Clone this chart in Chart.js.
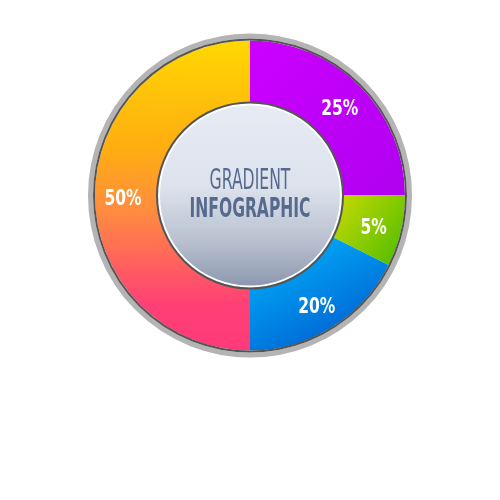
<!DOCTYPE html>
<html><head><meta charset="utf-8">
<script src="https://cdn.jsdelivr.net/npm/chart.js@4.4.1/dist/chart.umd.min.js"></script>
<style>html,body{margin:0;padding:0;background:#fff}#wrap{width:500px;height:500px}</style>
</head><body><div id="wrap"><canvas id="c" width="500" height="500"></canvas></div>
<script>
// Segments, clockwise from 12 o'clock
const categories = ['Purple', 'Green', 'Blue', 'Orange'];
const shares = [25, 7.4, 17.6, 50];          // arc sizes as drawn in the picture
const labelTexts = ['25%', '5%', '20%', '50%'];
const titleLines = ['GRADIENT', 'INFOGRAPHIC'];

function segmentFill(c) {
  const chart = c.chart, a = chart.chartArea;
  if (!a) return '#ccc';
  const g = chart.ctx;
  const cx = (a.left + a.right) / 2, cy = (a.top + a.bottom) / 2;
  const r = Math.min(a.width, a.height) / 2;
  let gr;
  switch (c.dataIndex) {
    case 0:
      gr = g.createLinearGradient(cx, cy - r, cx + r, cy);
      gr.addColorStop(0, '#cc00ff'); gr.addColorStop(1, '#b000f0');
      return gr;
    case 1:
      gr = g.createLinearGradient(cx + 0.6 * r, cy, cx + r, cy + 0.3 * r);
      gr.addColorStop(0, '#c2d800'); gr.addColorStop(1, '#5cc000');
      return gr;
    case 2:
      gr = g.createLinearGradient(cx + 0.3 * r, cy + 0.15 * r, cx + 0.75 * r, cy + r);
      gr.addColorStop(0, '#00b6ff'); gr.addColorStop(1, '#0058cc');
      return gr;
    default:
      gr = g.createLinearGradient(cx, cy - r, cx, cy + r);
      gr.addColorStop(0, '#ffd800');
      gr.addColorStop(0.35, '#ffad12');
      gr.addColorStop(0.55, '#ff8c40');
      gr.addColorStop(0.85, '#ff4075');
      gr.addColorStop(1, '#ff3a7a');
      return gr;
  }
}

function drawScaled(ctx, text, x, y, font, sx, color) {
  ctx.save();
  ctx.font = font;
  ctx.fillStyle = color;
  ctx.textAlign = 'center';
  ctx.textBaseline = 'alphabetic';
  ctx.translate(x, y);
  ctx.scale(sx, 1);
  ctx.fillText(text, 0, 0);
  ctx.restore();
}

const decor = {
  id: 'decor',
  afterDatasetsDraw(chart) {
    const ctx = chart.ctx;
    const arcs = chart.getDatasetMeta(0).data;
    const a0 = arcs[0];
    const x = a0.x, y = a0.y, R = a0.outerRadius, r = a0.innerRadius;
    // outer ring
    ctx.save();
    ctx.beginPath(); ctx.arc(x, y, R + 4.5, 0, Math.PI * 2);
    ctx.lineWidth = 5; ctx.strokeStyle = '#b4b4b4'; ctx.stroke();
    ctx.beginPath(); ctx.arc(x, y, R + 1, 0, Math.PI * 2);
    ctx.lineWidth = 2; ctx.strokeStyle = '#555555'; ctx.stroke();
    // center disc
    const gr = ctx.createLinearGradient(x, y - r, x, y + r);
    gr.addColorStop(0, '#e6ebf4');
    gr.addColorStop(0.45, '#dde3ed');
    gr.addColorStop(0.75, '#b8c0cf');
    gr.addColorStop(1, '#8a96ad');
    ctx.beginPath(); ctx.arc(x, y, r - 1, 0, Math.PI * 2);
    ctx.fillStyle = gr; ctx.fill();
    ctx.beginPath(); ctx.arc(x, y, r - 2, 0, Math.PI * 2);
    ctx.lineWidth = 2; ctx.strokeStyle = '#ffffff'; ctx.stroke();
    ctx.beginPath(); ctx.arc(x, y, r, 0, Math.PI * 2);
    ctx.lineWidth = 2; ctx.strokeStyle = '#555555'; ctx.stroke();
    ctx.restore();
    // center title
    drawScaled(ctx, titleLines[0], x, y - 6.5, '29px "DejaVu Sans Condensed", "DejaVu Sans"', 0.6, '#576a8e');
    drawScaled(ctx, titleLines[1], x, y + 21.5, 'bold 27px "DejaVu Sans Condensed", "DejaVu Sans"', 0.64, '#576a8e');
    // segment labels at each arc's mid-angle
    arcs.forEach((arc, i) => {
      const mid = (arc.startAngle + arc.endAngle) / 2;
      const rr = (arc.innerRadius + arc.outerRadius) / 2 + 3;
      const px = arc.x + Math.cos(mid) * rr;
      const py = arc.y + Math.sin(mid) * rr;
      drawScaled(ctx, labelTexts[i], px, py + 9.5, 'bold 21px "DejaVu Sans Condensed", "DejaVu Sans"', 0.82, '#ffffff');
    });
  }
};

new Chart(document.getElementById('c'), {
  type: 'doughnut',
  data: {
    labels: categories,
    datasets: [{ data: shares, backgroundColor: segmentFill, borderWidth: 0, hoverOffset: 0 }]
  },
  options: {
    responsive: false,
    animation: false,
    cutout: '60%',
    layout: { padding: { left: 95, right: 95, top: 40, bottom: 149 } },
    plugins: { legend: { display: false }, tooltip: { enabled: false } }
  },
  plugins: [decor]
});
</script>
</body></html>
